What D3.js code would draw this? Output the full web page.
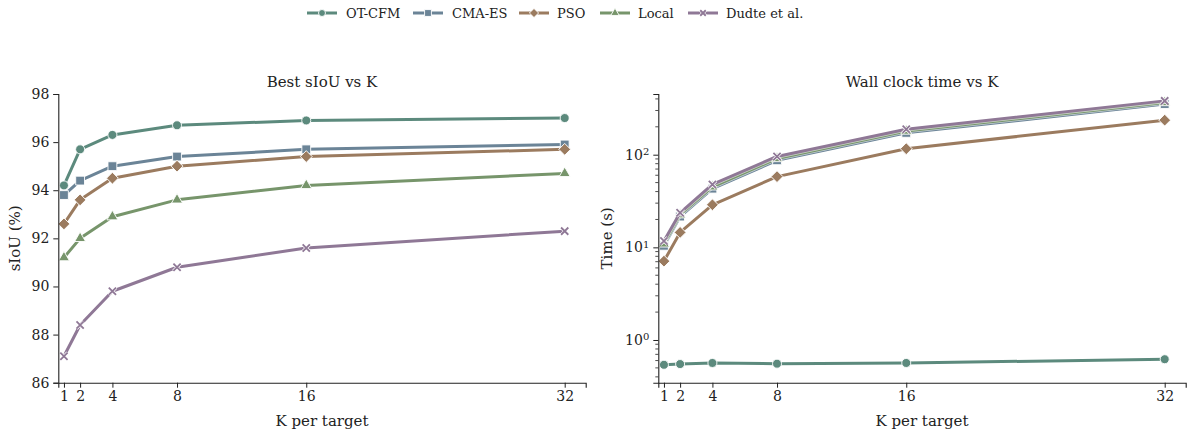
<!DOCTYPE html>
<html>
<head>
<meta charset="utf-8">
<script src="https://cdn.jsdelivr.net/npm/d3@7"></script>
<style>
  html, body { margin: 0; padding: 0; background: #fff; }
  svg { display: block; font-family: "DejaVu Serif", serif; }
</style>
</head>
<body>
<svg id="chart" width="1192" height="432"></svg>
<script>
// K values evaluated per target
const kValues = [1, 2, 4, 8, 16, 32];
const methods = ["OT-CFM", "CMA-ES", "PSO", "Local", "Dudte et al."];
const colors = ["#5c8a7d", "#6b8497", "#9b7b5f", "#77956b", "#8f7896"];
const shapes = ["circle", "square", "diamond", "triangle", "cross"];

// Best sIoU (%) per method
const siouOTCFM = [94.2, 95.7, 96.3, 96.7, 96.9, 97.0];
const siouCMAES = [93.8, 94.4, 95.0, 95.4, 95.7, 95.9];
const siouPSO   = [92.6, 93.6, 94.5, 95.0, 95.4, 95.7];
const siouLocal = [91.2, 92.0, 92.9, 93.6, 94.2, 94.7];
const siouDudte = [87.1, 88.4, 89.8, 90.8, 91.6, 92.3];

// Wall clock time (s) per method
const timeOTCFM = [0.54, 0.55, 0.565, 0.555, 0.565, 0.62];
const timeCMAES = [10.4, 21.5, 43, 87, 172, 352];
const timePSO   = [7.1, 14.5, 28.8, 58, 116, 236];
const timeLocal = [10.9, 22.5, 45, 91, 180, 366];
const timeDudte = [11.7, 23.6, 47.8, 95.7, 188, 381];

const siouTicks = [86, 88, 90, 92, 94, 96, 98];
const timeTicks = [1, 10, 100];

const siouSeries = [siouOTCFM, siouCMAES, siouPSO, siouLocal, siouDudte];
const timeSeries = [timeOTCFM, timeCMAES, timePSO, timeLocal, timeDudte];

const svg = d3.select("#chart");
const ink = "#222";

function markerPath(shape, k) {
  const sym = {
    circle: d3.symbol(d3.symbolCircle, 64 * k),
    square: d3.symbol(d3.symbolSquare, 78 * k),
    diamond: d3.symbol(d3.symbolSquare, 70 * k),
    triangle: d3.symbol(d3.symbolTriangle, 52 * k),
    cross: d3.symbol(d3.symbolX, 36 * k)
  };
  return sym[shape]();
}

function drawMarker(g, shape, color, x, y, k = 1) {
  const tr = `translate(${x},${y})` + (shape === "diamond" ? " rotate(45)" : "");
  if (shape === "cross") {
    g.append("path").attr("d", markerPath(shape, k)).attr("transform", tr)
      .attr("fill", "none").attr("stroke", "#fff").attr("stroke-width", 3.2);
    g.append("path").attr("d", markerPath(shape, k)).attr("transform", tr)
      .attr("fill", "none").attr("stroke", color).attr("stroke-width", 1.8);
  } else {
    g.append("path").attr("d", markerPath(shape, k)).attr("transform", tr)
      .attr("fill", color).attr("stroke", "#fff").attr("stroke-width", 0.9);
  }
}

function drawPanel(opts) {
  const g = svg.append("g");
  const x = d3.scaleLinear().domain([0.65, 33.3]).range([opts.left, opts.right]);
  const y = opts.y;

  // series lines + markers
  opts.series.forEach((vals, i) => {
    const line = d3.line().x((d, j) => x(kValues[j])).y(d => y(d));
    g.append("path").datum(vals)
      .attr("d", line)
      .attr("fill", "none")
      .attr("stroke", "#fff").attr("stroke-width", 4.6)
      .attr("stroke-opacity", 0.6)
      .attr("stroke-linejoin", "round");
    g.append("path").datum(vals)
      .attr("d", line)
      .attr("fill", "none")
      .attr("stroke", colors[i]).attr("stroke-width", 3)
      .attr("stroke-linejoin", "round");
    vals.forEach((v, j) => drawMarker(g, shapes[i], colors[i], x(kValues[j]), y(v)));
  });

  // x axis
  const xAxis = d3.axisBottom(x).tickValues(kValues).tickSize(5).tickPadding(3);
  const gx = g.append("g").attr("transform", `translate(0,${opts.bottom})`).call(xAxis);
  gx.select(".domain").attr("stroke", ink).attr("stroke-width", 1.1);
  gx.selectAll(".tick line").attr("stroke", ink).attr("stroke-width", 1);
  gx.selectAll(".tick text").attr("fill", ink).style("font-size", "14px")
    .style("font-family", "DejaVu Serif");

  // y axis
  const gy = g.append("g").attr("transform", `translate(${opts.left},0)`).call(opts.yAxis);
  gy.select(".domain").attr("stroke", ink).attr("stroke-width", 1.1);
  gy.selectAll(".tick line").attr("stroke", ink).attr("stroke-width", 1);
  gy.selectAll(".tick text").attr("fill", ink).style("font-size", "14px")
    .style("font-family", "DejaVu Serif");
  if (opts.after) opts.after(gy);

  const cx = (opts.left + opts.right) / 2;
  g.append("text").attr("x", cx).attr("y", 87).attr("text-anchor", "middle")
    .attr("fill", ink).style("font-size", "15px").text(opts.title);
  g.append("text").attr("x", cx).attr("y", 426).attr("text-anchor", "middle")
    .attr("fill", ink).style("font-size", "15px").text("K per target");
  g.append("text")
    .attr("transform", `translate(${opts.ylabelX},${(opts.top + opts.bottom) / 2}) rotate(-90)`)
    .attr("text-anchor", "middle").attr("fill", ink).style("font-size", "15px")
    .text(opts.ylabel);
}

// left panel: best sIoU
const yLeft = d3.scaleLinear().domain([86, 98]).range([382.7, 94]);
drawPanel({
  left: 58.3, right: 585.7, top: 94, bottom: 382.7,
  y: yLeft,
  yAxis: d3.axisLeft(yLeft).tickValues(siouTicks).tickSize(5).tickPadding(4).tickFormat(d3.format("d")),
  series: siouSeries,
  title: "Best sIoU vs K",
  ylabel: "sIoU (%)",
  ylabelX: 20
});

// right panel: wall clock time on a log axis
const yRight = d3.scaleLog().domain([0.346, 452]).range([382.7, 94]);
drawPanel({
  left: 658.3, right: 1185.7, top: 94, bottom: 382.7,
  y: yRight,
  yAxis: d3.axisLeft(yRight).tickValues(timeTicks).tickSize(5).tickPadding(4).tickFormat(() => ""),
  series: timeSeries,
  title: "Wall clock time vs K",
  ylabel: "Time (s)",
  ylabelX: 612,
  after: gy => {
    // minor ticks
    const minors = [];
    [0.1, 1, 10, 100].forEach(b => {
      for (let m = 2; m <= 9; m++) {
        const v = b * m;
        if (v >= yRight.domain()[0] && v <= yRight.domain()[1]) minors.push(v);
      }
    });
    gy.selectAll(".minor").data(minors).join("line").attr("class", "minor")
      .attr("x1", 0).attr("x2", -3)
      .attr("y1", d => yRight(d)).attr("y2", d => yRight(d))
      .attr("stroke", ink).attr("stroke-width", 0.8);
    // 10^k labels
    gy.selectAll(".tick").each(function(d) {
      const t = d3.select(this).select("text").text(null);
      t.append("tspan").text("10");
      t.append("tspan").attr("dy", "-0.45em").style("font-size", "10px")
        .text(Math.round(Math.log10(d)));
    });
  }
});

// legend
const legendItems = [
  { x: 307, tx: 346 },
  { x: 413, tx: 452 },
  { x: 519, tx: 557 },
  { x: 600, tx: 638 },
  { x: 688, tx: 726 }
];
const lg = svg.append("g");
methods.forEach((name, i) => {
  const it = legendItems[i];
  lg.append("line").attr("x1", it.x).attr("x2", it.x + 30).attr("y1", 13).attr("y2", 13)
    .attr("stroke", colors[i]).attr("stroke-width", 3);
  drawMarker(lg, shapes[i], colors[i], it.x + 15, 13, 0.6);
  lg.append("text").attr("x", it.tx).attr("y", 18).attr("fill", ink)
    .style("font-size", "13px").text(name);
});
</script>
</body>
</html>
